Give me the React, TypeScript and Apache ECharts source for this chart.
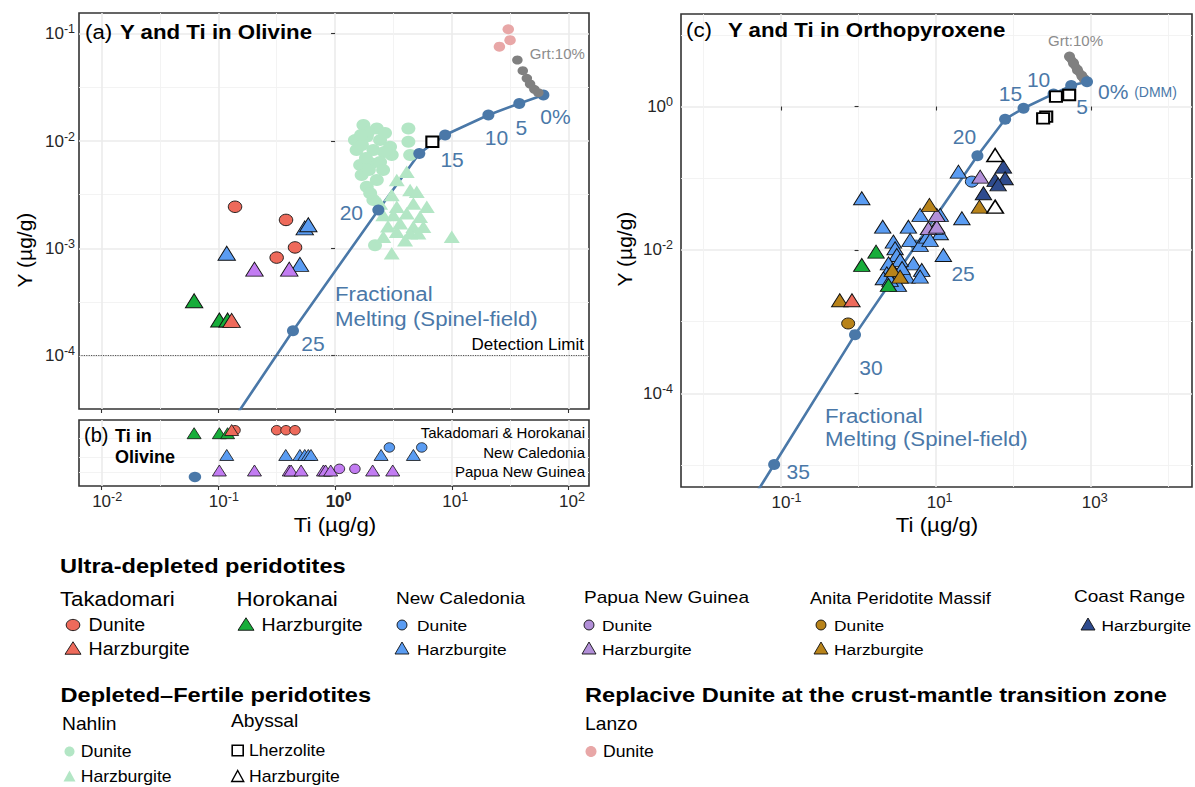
import React, { useEffect, useRef } from 'react';
import * as echarts from 'echarts';

const FONT = '"Liberation Sans", Arial, Helvetica, sans-serif';

// ---------- Olivine: Ti and Y (µg/g); null = Y below detection ----------
const takDunOlTi = [0.139, 0.316, 0.38, 0.454];
const takDunOlY = [2.44e-3, 8.2e-4, 1.84e-3, 1.02e-3];
const takHzOlTi = [0.13];
const takHzOlY = [2.13e-4];
const horHzOlTi = [0.062, 0.102, 0.12];
const horHzOlY = [3.25e-4, 2.15e-4, 2.15e-4];
const ncDunOlTi = [2.92, 5.53];
const ncDunOlY: (number | null)[] = [null, null];
const ncHzOlTi = [0.118, 0.378, 0.5, 0.55, 0.59, 0.622, 2.48, 4.69];
const ncHzOlY: (number | null)[] = [9e-4, null, 7.1e-4, 1.55e-3, 1.66e-3, null, null, null];
const pngDunOlTi = [1.09, 1.48];
const pngDunOlY: (number | null)[] = [null, null];
const pngHzOlTi = [0.102, 0.204, 0.405, 0.42, 0.512, 0.795, 0.83, 0.918, 2.1, 3.12];
const pngHzOlY: (number | null)[] = [null, 6.4e-4, 6.4e-4, null, null, null, null, null, null, null];

const nahDunOlTi = [1.75, 2.28, 1.48, 1.87, 2.43, 1.53, 2.13, 2.96, 3.06, 1.64, 2.06, 1.69, 2.28, 1.87, 2.13, 2.2, 4.25, 4.25, 4.4, 1.92, 2.68, 1.7, 2.63, 1.84, 2.43, 1.95, 2.58, 2.0, 1.67];
const nahDunOlY = [0.0141, 0.0131, 0.0102, 0.011, 0.0102, 0.00824, 0.00824, 0.00885, 0.00741, 0.00597, 0.00619, 0.00482, 0.00433, 0.00375, 0.00282, 0.00107, 0.0131, 0.00984, 0.00741, 0.01213, 0.01188, 0.00918, 0.00789, 0.00694, 0.00637, 0.00537, 0.00537, 0.00327, 0.01137];
const nahHzOlTi = [4.11, 3.38, 4.4, 5.01, 3.06, 2.43, 3.38, 4.69, 6.11, 3.16, 4.11, 5.35, 2.59, 3.61, 4.69, 5.71, 3.38, 4.4, 2.59, 3.98, 10.0, 3.06, 5.18, 2.84];
const nahHzOlY = [0.00518, 0.00433, 0.00349, 0.00336, 0.00314, 0.00262, 0.00244, 0.00262, 0.00244, 0.00204, 0.00212, 0.00197, 0.00204, 0.00171, 0.00159, 0.00159, 0.00143, 0.00138, 0.00128, 0.00119, 0.00128, 0.000898, 0.00138, 0.00161];
const lanzoOlTi = [30.5, 31.6, 25.6];
const lanzoOlY = [0.11, 0.0871, 0.0757];
const abyLhzOlTi = [6.82];
const abyLhzOlY = [0.00984];

// fractional melting (spinel field) and garnet-field path, olivine
const olModelTi = [61, 37.9, 20.6, 8.77, 5.27, 2.35, 0.436, 0.063];
const olModelY = [0.0269, 0.0224, 0.01746, 0.01137, 0.00767, 0.00228, 1.71e-4, 7.4e-6];
const olModelLabels = ['0%', '5', '10', '15', '', '20', '25', ''];
const olGrtTi = [36.5, 40.6, 44.0, 46.9, 51.0, 55.2];
const olGrtY = [0.0569, 0.0452, 0.0384, 0.034, 0.0303, 0.0282];
const DETECTION_LIMIT = 1e-4;

// ---------- Orthopyroxene ----------
const ncHzOpxTi = [1.1, 19.4, 6.22, 4.39, 2.05, 11.3, 21.5, 2.81, 4.62, 6.22, 7.59, 11.3, 12.4, 2.96, 3.11, 2.43, 5.09, 6.53, 2.31, 4.19, 6.22, 3.26, 2.09, 2.79, 3.43, 8.37, 9.7, 2.55, 3.64];
const ncHzOpxY = [0.0526, 0.1236, 0.0308, 0.0211, 0.0211, 0.0308, 0.0277, 0.0131, 0.0138, 0.01175, 0.01535, 0.0171, 0.00851, 0.01057, 0.00851, 0.00652, 0.00652, 0.00526, 0.00473, 0.00425, 0.00425, 0.00325, 0.00403, 0.00526, 0.00726, 0.0138, 0.0203, 0.00382, 0.00561];
const ncDunOpxTi = [28.9];
const ncDunOpxY = [0.0897];
const pngHzOpxTi = [37.0, 7.96, 10.2, 10.2];
const pngHzOpxY = [0.1052, 0.0201, 0.0211, 0.0308];
const coastHzOpxTi = [73.8, 57.7, 77.6, 40.8, 63.1];
const coastHzOpxY = [0.145, 0.0947, 0.1, 0.0618, 0.0822];
const abyHzOpxTi = [57.7, 57.7];
const abyHzOpxY = [0.211, 0.0402];
const anitaHzOpxTi = [8.2, 36.2, 2.73, 3.43, 0.572];
const anitaHzOpxY = [0.0425, 0.0402, 0.00526, 0.00425, 0.00199];
const anitaDunOpxTi = [0.734];
const anitaDunOpxY = [0.000944];
const takHzOpxTi = [0.822];
const takHzOpxY = [0.00199];
const horHzOpxTi = [1.68, 1.1, 2.43];
const horHzOpxY = [0.00946, 0.00618, 0.00325];
const abyLhzOpxTi = [351, 520, 263, 240];
const abyLhzOpxY = [1.374, 1.45, 0.723, 0.683];

const opxModelTi = [883, 552, 327, 134, 77.6, 34.1, 5.52, 0.9, 0.0815, 0.0074];
const opxModelY = [2.22, 1.96, 1.5, 0.946, 0.665, 0.206, 0.01175, 6.6e-4, 1.02e-5, 1.6e-7];
const opxModelLabels = ['0%', '5', '10', '15', '', '20', '25', '30', '35', ''];
const opxGrtTi = [525, 592, 665, 759, 813];
const opxGrtY = [4.97, 4.02, 3.24, 2.67, 2.42];

// tick positions (log10)
const A_X_MAJOR = [-2, -1, 0, 1, 2];
const A_X_MINOR = [-1.5, -0.5, 0.5, 1.5];
const A_Y_MAJOR = [-4, -3, -2, -1];
const A_Y_MINOR = [-3.5, -2.5, -1.5];
const C_X_MAJOR = [-1, 1, 3];
const C_X_MINOR = [-2, 0, 2, 4];
const C_Y_MAJOR = [-4, -2, 0];
const C_Y_MINOR = [-5, -3, -1, 1];

// colours
const STEEL = '#4A78A8';
const RED = '#EE6A5B';
const GREEN = '#17AD3A';
const BLUE = '#5A9CF2';
const PURPLE_A = '#C27CF2';
const PURPLE_C = '#B28FD8';
const BROWN = '#B8831A';
const NAVY = '#2E4B8E';
const NAHLIN = '#B3E6C5';
const LANZO = '#E8A7A7';
const GRT = '#808080';
const AXIS_TEXT = '#262626';

const lg = (v: number) => Math.log10(v);
const xy = (ti: number[], y: (number | null)[]) =>
  ti.flatMap((t, i) => (y[i] == null ? [] : [[lg(t), lg(y[i] as number)]]));
const onRow = (ti: number[], level: number) => ti.map((t) => [lg(t), level]);

type Mk = { symbol: string; size: number[]; color: string; border?: string; bw?: number };
const circA = (c: string): Mk => ({ symbol: 'circle', size: [13.5, 11.5], color: c, border: '#111', bw: 0.9 });
const triA = (c: string): Mk => ({ symbol: 'triangle', size: [17.5, 14], color: c, border: '#111', bw: 0.9 });
const circB = (c: string): Mk => ({ symbol: 'circle', size: [10.5, 9.5], color: c, border: '#111', bw: 0.8 });
const triB = (c: string): Mk => ({ symbol: 'triangle', size: [14, 11], color: c, border: '#111', bw: 0.8 });
const circC = (c: string): Mk => ({ symbol: 'circle', size: [13, 11], color: c, border: '#111', bw: 0.9 });
const triC = (c: string): Mk => ({ symbol: 'triangle', size: [16.5, 13], color: c, border: '#111', bw: 0.9 });

const sc = (data: any[], xi: number, yi: number, mk: Mk, z: number, extra: any = {}) => ({
  type: 'scatter',
  data,
  xAxisIndex: xi,
  yAxisIndex: yi,
  symbol: mk.symbol,
  symbolSize: mk.size,
  itemStyle: { color: mk.color, borderColor: mk.border ?? 'transparent', borderWidth: mk.bw ?? 0, opacity: 1 },
  emphasis: { disabled: true },
  silent: true,
  clip: true,
  z,
  ...extra,
});

const BASE_SIZE = 17;
const SUP_SIZE = 12.5;
const labelRich = {
  b: { fontSize: BASE_SIZE, fontFamily: FONT, color: AXIS_TEXT, lineHeight: 22 },
  bb: { fontSize: BASE_SIZE, fontFamily: FONT, color: AXIS_TEXT, lineHeight: 22, fontWeight: 'bold' },
  s: { fontSize: SUP_SIZE, fontFamily: FONT, color: AXIS_TEXT, lineHeight: 12, verticalAlign: 'top' },
  sb: { fontSize: SUP_SIZE, fontFamily: FONT, color: AXIS_TEXT, lineHeight: 12, verticalAlign: 'top', fontWeight: 'bold' },
  p9: { width: 11 },
  p6: { width: 7 },
};
// "10" with the exponent raised; the unit decade of panel (b) is set in bold
const pow10 = (v: number, centred: boolean, boldUnit: boolean) => {
  const bold = boldUnit && v === 0;
  const body = `{${bold ? 'bb' : 'b'}|10}{${bold ? 'sb' : 's'}|${v}}`;
  return centred ? `{${v < 0 ? 'p9' : 'p6'}| }` + body : body;
};

const majorSplit = { show: true, lineStyle: { color: '#EBEBEB', width: 1.6 } };
const minorSplit = { show: true, lineStyle: { color: '#F2F2F2', width: 0.9 } };
const tickStyle = { show: true, length: 4, lineStyle: { color: '#333', width: 1.1 } };

const xMajor = (grid: number, ext: number[], ticks: number[], labels: boolean, boldUnit = false, margin = 4) => ({
  type: 'value', gridIndex: grid, min: ext[0], max: ext[1],
  axisLine: { show: false },
  axisTick: { ...tickStyle, customValues: ticks },
  axisLabel: labels
    ? {
        show: true, customValues: ticks, margin, fontSize: BASE_SIZE, color: AXIS_TEXT, fontFamily: FONT,
        formatter: (v: number) => pow10(v, true, boldUnit), rich: labelRich,
      }
    : { show: false },
  splitLine: majorSplit,
});
const xMinor = (grid: number, ext: number[], ticks: number[]) => ({
  type: 'value', gridIndex: grid, min: ext[0], max: ext[1],
  axisLine: { show: false },
  axisTick: { show: false, customValues: ticks },
  axisLabel: { show: false },
  splitLine: minorSplit,
});
const yMajor = (grid: number, ext: number[], ticks: number[], margin: number) => ({
  type: 'value', gridIndex: grid, min: ext[0], max: ext[1],
  axisLine: { show: false },
  axisTick: { ...tickStyle, customValues: ticks },
  axisLabel: {
    show: true, customValues: ticks, margin, fontSize: BASE_SIZE, color: AXIS_TEXT, fontFamily: FONT,
    formatter: (v: number) => pow10(v, false, false), rich: labelRich,
  },
  splitLine: majorSplit,
});
const yMinor = (grid: number, ext: number[], ticks: number[]) => ({
  type: 'value', gridIndex: grid, min: ext[0], max: ext[1],
  axisLine: { show: false },
  axisTick: { show: false, customValues: ticks },
  axisLabel: { show: false },
  splitLine: minorSplit,
});

// graphic helpers
const txt = (x: number, y: number, text: string, size: number, o: any = {}) => ({
  type: 'text', x, y, scaleX: o.sx ?? 1, rotation: o.rot ?? 0, silent: true, z: 100,
  style: {
    text, fontSize: size, fontFamily: FONT, fontWeight: o.bold ? 'bold' : 'normal', fill: o.color ?? '#000',
    textAlign: o.align ?? 'left', align: o.align ?? 'left', textVerticalAlign: 'middle', verticalAlign: 'middle',
  },
});
const ell = (cx: number, cy: number, rx: number, ry: number, fill: string, stroke: string | null) => ({
  type: 'ellipse', silent: true, z: 100, shape: { cx, cy, rx, ry },
  style: { fill, stroke: stroke ?? 'none', lineWidth: stroke ? 0.9 : 0 },
});
const tri = (cx: number, cy: number, w: number, h: number, fill: string, stroke: string | null, lw = 0.9) => ({
  type: 'polygon', silent: true, z: 100,
  shape: { points: [[cx, cy - h / 2], [cx + w / 2, cy + h / 2], [cx - w / 2, cy + h / 2]] },
  style: { fill, stroke: stroke ?? 'none', lineWidth: stroke ? lw : 0 },
});
const sq = (cx: number, cy: number, w: number, h: number) => ({
  type: 'rect', silent: true, z: 100, shape: { x: cx - w / 2, y: cy - h / 2, width: w, height: h },
  style: { fill: '#fff', stroke: '#000', lineWidth: 1.6 },
});

const A_X = [-2.194, 2.176];
const A_Y = [-4.497, -0.807];
const C_X = [-2.29, 4.3];
const C_Y = [-5.305, 1.29];

const olLblOff = [[12, 22], [2, 24], [8, 22], [7, 24], [0, 0], [-27, 3], [20, 13], [0, 0]];
const opxLblOff = [[11, 10], [11, 21], [-15, -14], [-13, -15], [0, 0], [-13, -19], [47, 29], [16, 33], [24, 7], [0, 0]];

function buildOption() {
  const olModelPts = olModelTi.map((t, i) => ({
    value: [lg(t), lg(olModelY[i])],
    label: olModelLabels[i]
      ? { show: true, formatter: olModelLabels[i], offset: olLblOff[i] }
      : { show: false },
  }));
  const opxModelPts = opxModelTi.map((t, i) => {
    const base: any = { value: [lg(t), lg(opxModelY[i])] };
    if (!opxModelLabels[i]) base.label = { show: false };
    else if (i === 0)
      base.label = {
        show: true, formatter: '0% {d|(DMM)}', align: 'left', offset: opxLblOff[i],
        rich: { d: { fontSize: 14, color: STEEL, fontFamily: FONT } },
      };
    else base.label = { show: true, formatter: opxModelLabels[i], offset: opxLblOff[i] };
    return base;
  });
  const modelLabel = { position: 'inside', color: STEEL, fontSize: 21, fontFamily: FONT };
  const grtLabel = (off: number[]) => ({
    show: true, formatter: 'Grt:10%', position: 'inside', offset: off, color: '#8C8C8C', fontSize: 15, fontFamily: FONT,
  });
  const olGrtPts = olGrtTi.map((t, i) => ({
    value: [lg(t), lg(olGrtY[i])],
    label: i === 0 ? grtLabel([40, -6]) : { show: false },
  }));
  const opxGrtPts = opxGrtTi.map((t, i) => ({
    value: [lg(t), lg(opxGrtY[i])],
    label: i === 0 ? grtLabel([6, -16]) : { show: false },
  }));

  const series: any[] = [
    // ---- panel (a)
    {
      type: 'line', xAxisIndex: 0, yAxisIndex: 0, z: 2, silent: true, clip: true,
      data: olModelTi.map((t, i) => [lg(t), lg(olModelY[i])]),
      symbol: 'none', lineStyle: { color: STEEL, width: 2.6 },
      markLine: {
        silent: true, symbol: 'none', animation: false,
        data: [{ yAxis: lg(DETECTION_LIMIT) }],
        lineStyle: { type: 'dotted', color: '#555', width: 1.2 },
        label: {
          show: true, position: 'insideEndTop', formatter: 'Detection Limit', color: '#000',
          fontSize: 17, fontFamily: FONT, distance: [5, 3],
        },
      },
    },
    sc(xy(nahDunOlTi, nahDunOlY), 0, 0, { symbol: 'circle', size: [14, 12], color: NAHLIN }, 3),
    sc(xy(nahHzOlTi, nahHzOlY), 0, 0, { symbol: 'triangle', size: [16, 12.5], color: NAHLIN }, 3),
    sc(olModelPts, 0, 0, { symbol: 'circle', size: [12, 11], color: STEEL }, 4, { label: modelLabel }),
    sc(xy(lanzoOlTi, lanzoOlY), 0, 0, { symbol: 'circle', size: [11.5, 10], color: LANZO }, 4),
    sc(olGrtPts, 0, 0, { symbol: 'circle', size: [10.5, 9], color: GRT }, 4),
    sc(xy(takDunOlTi, takDunOlY), 0, 0, circA(RED), 5),
    sc(xy(ncHzOlTi, ncHzOlY), 0, 0, triA(BLUE), 5),
    sc(xy(pngHzOlTi, pngHzOlY), 0, 0, triA(PURPLE_A), 5),
    sc(xy(horHzOlTi, horHzOlY), 0, 0, triA(GREEN), 5),
    sc(xy(takHzOlTi, takHzOlY), 0, 0, triA(RED), 6),
    sc(xy(abyLhzOlTi, abyLhzOlY), 0, 0, { symbol: 'rect', size: [12, 10.5], color: '#fff', border: '#000', bw: 2 }, 6),

    // ---- panel (b): Ti in olivine for every sample, one row per locality
    sc([[lg(olModelTi[7]), 0.137]], 2, 2, { symbol: 'circle', size: [12.5, 10.5], color: STEEL }, 4),
    sc(onRow(pngHzOlTi, 0.235), 2, 2, triB(PURPLE_A), 5),
    sc(onRow(pngDunOlTi, 0.26), 2, 2, circB(PURPLE_A), 5),
    sc(onRow(ncHzOlTi, 0.47), 2, 2, triB(BLUE), 5),
    sc(onRow(ncDunOlTi, 0.584), 2, 2, circB(BLUE), 5),
    sc(onRow(horHzOlTi, 0.8), 2, 2, triB(GREEN), 5),
    sc(onRow(takDunOlTi, 0.845), 2, 2, circB(RED), 5),
    sc(onRow(takHzOlTi, 0.848), 2, 2, triB(RED), 6),

    // ---- panel (c)
    {
      type: 'line', xAxisIndex: 4, yAxisIndex: 3, z: 2, silent: true, clip: true,
      data: opxModelTi.map((t, i) => [lg(t), lg(opxModelY[i])]),
      symbol: 'none', lineStyle: { color: STEEL, width: 2.6 },
    },
    {
      type: 'line', xAxisIndex: 4, yAxisIndex: 3, z: 3, silent: true, clip: true,
      data: opxGrtTi.map((t, i) => [lg(t), lg(opxGrtY[i])]),
      symbol: 'none', lineStyle: { color: GRT, width: 9, cap: 'round' },
    },
    sc(opxGrtPts, 4, 3, { symbol: 'circle', size: [11, 10], color: GRT }, 3),
    sc(opxModelPts, 4, 3, { symbol: 'circle', size: [12, 11], color: STEEL }, 3, { label: modelLabel }),
    sc(xy(ncHzOpxTi, ncHzOpxY), 4, 3, triC(BLUE), 5),
    sc(xy(ncDunOpxTi, ncDunOpxY), 4, 3, circC(BLUE), 5),
    sc(xy(pngHzOpxTi, pngHzOpxY), 4, 3, triC(PURPLE_C), 6),
    sc(xy(anitaHzOpxTi, anitaHzOpxY), 4, 3, triC(BROWN), 6),
    sc(xy(anitaDunOpxTi, anitaDunOpxY), 4, 3, circC(BROWN), 6),
    sc(xy(horHzOpxTi, horHzOpxY), 4, 3, triC(GREEN), 6),
    sc(xy(takHzOpxTi, takHzOpxY), 4, 3, triC(RED), 6),
    sc(xy(coastHzOpxTi, coastHzOpxY), 4, 3, triC(NAVY), 6),
    sc(xy(abyHzOpxTi, abyHzOpxY), 4, 3, { symbol: 'triangle', size: [16.5, 13], color: '#fff', border: '#000', bw: 1.5 }, 6),
    sc(xy(abyLhzOpxTi, abyLhzOpxY), 4, 3, { symbol: 'rect', size: [12, 10.5], color: '#fff', border: '#000', bw: 2 }, 6),
  ];

  const gridBase = { show: true, borderColor: '#333', borderWidth: 1.6, backgroundColor: 'transparent', containLabel: false };

  const graphic: any[] = [
    // panel titles
    txt(85, 32, '(a)', 21, { sx: 1.06 }),
    txt(120, 32, 'Y and Ti in Olivine', 21, { bold: true, sx: 1.06 }),
    txt(686, 30, '(c)', 21, { sx: 1.06 }),
    txt(728, 30, 'Y and Ti in Orthopyroxene', 21, { bold: true, sx: 1.06 }),
    txt(335, 294, 'Fractional', 21, { color: STEEL, sx: 1.06 }),
    txt(335, 319, 'Melting (Spinel-field)', 21, { color: STEEL, sx: 1.06 }),
    txt(825, 416, 'Fractional', 21, { color: STEEL, sx: 1.06 }),
    txt(825, 439, 'Melting (Spinel-field)', 21, { color: STEEL, sx: 1.06 }),
    // panel (b) annotations
    txt(84, 435, '(b)', 20),
    txt(115, 436, 'Ti in', 18, { bold: true }),
    txt(115, 457, 'Olivine', 18, { bold: true }),
    txt(585, 432, 'Takadomari & Horokanai', 15, { align: 'right' }),
    txt(585, 452, 'New Caledonia', 15, { align: 'right' }),
    txt(585, 471, 'Papua New Guinea', 15, { align: 'right' }),
    // axis titles
    txt(24, 250, 'Y (µg/g)', 21, { rot: Math.PI / 2, align: 'center' }),
    txt(624, 249, 'Y (µg/g)', 21, { rot: Math.PI / 2, align: 'center' }),
    txt(335, 525, 'Ti (µg/g)', 21, { align: 'center', sx: 1.06 }),
    txt(937, 525, 'Ti (µg/g)', 21, { align: 'center', sx: 1.06 }),

    // legend: ultra-depleted
    txt(60, 566, 'Ultra-depleted peridotites', 20, { bold: true, sx: 1.18 }),
    txt(60, 599, 'Takadomari', 19.5, { sx: 1.14 }),
    ell(73, 625, 6.8, 5.6, RED, '#111'),
    txt(88.5, 625, 'Dunite', 17.5, { sx: 1.12 }),
    tri(73, 648, 16, 12.5, RED, '#111'),
    txt(88.5, 649, 'Harzburgite', 17.5, { sx: 1.12 }),
    txt(236.5, 599, 'Horokanai', 19.5, { sx: 1.14 }),
    tri(246, 624, 16, 12.5, GREEN, '#111'),
    txt(261.5, 625, 'Harzburgite', 17.5, { sx: 1.12 }),
    txt(396, 598, 'New Caledonia', 17, { sx: 1.12 }),
    ell(402, 625, 5, 5, BLUE, '#111'),
    txt(417, 625, 'Dunite', 15.5, { sx: 1.12 }),
    tri(402, 648, 14, 12, BLUE, '#111'),
    txt(417, 649, 'Harzburgite', 15.5, { sx: 1.12 }),
    txt(584, 597, 'Papua New Guinea', 17, { sx: 1.12 }),
    ell(589, 625, 5, 5, PURPLE_C, '#111'),
    txt(602, 625, 'Dunite', 15.5, { sx: 1.12 }),
    tri(589, 648, 14, 12, PURPLE_C, '#111'),
    txt(602, 649, 'Harzburgite', 15.5, { sx: 1.12 }),
    txt(810, 598, 'Anita Peridotite Massif', 17, { sx: 1.07 }),
    ell(821, 625, 5, 5, BROWN, '#111'),
    txt(834, 625, 'Dunite', 15.5, { sx: 1.12 }),
    tri(821, 648, 14, 12, BROWN, '#111'),
    txt(834, 649, 'Harzburgite', 15.5, { sx: 1.12 }),
    txt(1074, 596, 'Coast Range', 17, { sx: 1.12 }),
    tri(1088, 624, 14, 12, NAVY, '#111'),
    txt(1101.5, 625, 'Harzburgite', 15.5, { sx: 1.12 }),

    // legend: depleted–fertile
    txt(60.5, 695, 'Depleted–Fertile peridotites', 20, { bold: true, sx: 1.18 }),
    txt(62, 724, 'Nahlin', 17.5, { sx: 1.1 }),
    ell(69.5, 751.5, 5, 5, NAHLIN, null),
    txt(80.7, 751.5, 'Dunite', 16, { sx: 1.1 }),
    tri(69.5, 776, 12, 11, NAHLIN, null),
    txt(80.7, 776.5, 'Harzburgite', 16, { sx: 1.1 }),
    txt(231, 721, 'Abyssal', 17.5, { sx: 1.1 }),
    sq(237.7, 750.5, 11, 10.5),
    txt(249, 750.5, 'Lherzolite', 16, { sx: 1.1 }),
    tri(237.7, 776, 12, 11, '#fff', '#000', 1.4),
    txt(249, 776.5, 'Harzburgite', 16, { sx: 1.1 }),

    // legend: replacive dunite
    txt(585, 695, 'Replacive Dunite at the crust-mantle transition zone', 20, { bold: true, sx: 1.18 }),
    txt(585, 724, 'Lanzo', 17.5, { sx: 1.1 }),
    ell(591, 751.5, 5.5, 5.5, LANZO, null),
    txt(603, 751.5, 'Dunite', 16, { sx: 1.1 }),
  ];

  return {
    animation: false,
    backgroundColor: '#fff',
    textStyle: { fontFamily: FONT },
    grid: [
      { ...gridBase, left: 79, top: 13, width: 510, height: 396 },
      { ...gridBase, left: 79, top: 420, width: 510, height: 66 },
      { ...gridBase, left: 681, top: 14, width: 511, height: 473 },
    ],
    xAxis: [
      xMajor(0, A_X, A_X_MAJOR, false),
      xMinor(0, A_X, A_X_MINOR),
      xMajor(1, A_X, A_X_MAJOR, true, true),
      xMinor(1, A_X, A_X_MINOR),
      xMajor(2, C_X, C_X_MAJOR, true, false),
      xMinor(2, C_X, C_X_MINOR),
    ],
    yAxis: [
      yMajor(0, A_Y, A_Y_MAJOR, 4),
      yMinor(0, A_Y, A_Y_MINOR),
      {
        type: 'value', gridIndex: 1, min: 0, max: 1,
        axisLine: { show: false },
        axisTick: { show: false, customValues: [0.21, 0.44, 0.72] },
        axisLabel: { show: false },
        splitLine: minorSplit,
      },
      yMajor(2, C_Y, C_Y_MAJOR, 8),
      yMinor(2, C_Y, C_Y_MINOR),
    ],
    series,
    graphic,
  };
}

export default function App() {
  const ref = useRef<HTMLDivElement>(null);
  useEffect(() => {
    document.body.style.margin = '0';
    if (!ref.current) return;
    const chart = echarts.init(ref.current, undefined, { renderer: 'svg' });
    chart.setOption(buildOption() as any);
    return () => chart.dispose();
  }, []);
  return <div ref={ref} style={{ width: 1195, height: 787, background: '#fff' }} />;
}
